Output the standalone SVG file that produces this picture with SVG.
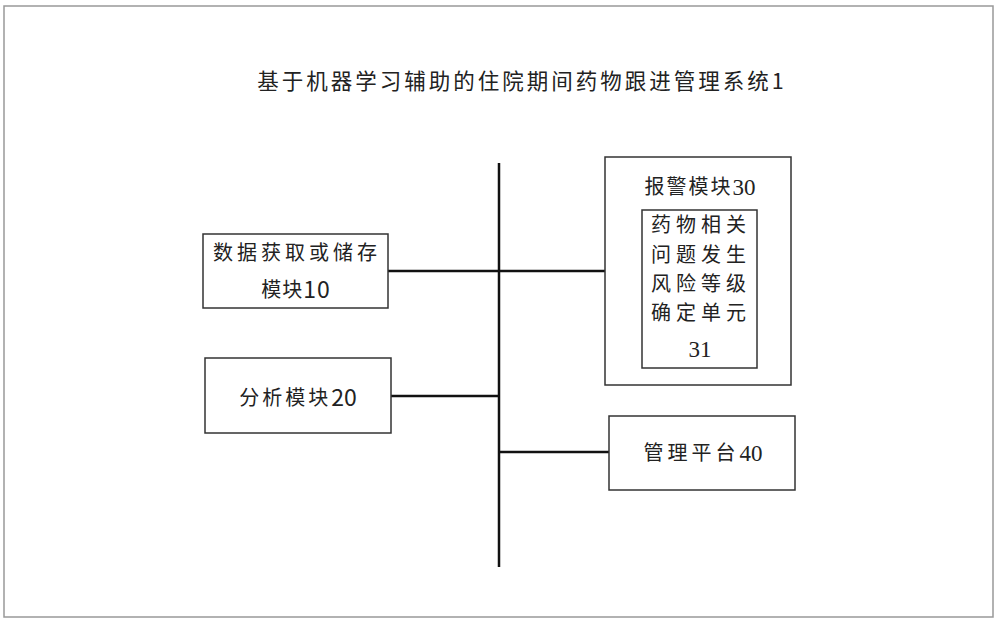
<svg xmlns="http://www.w3.org/2000/svg" width="1000" height="623" viewBox="0 0 1000 623">
<style>
.box{fill:#fff;stroke:#333;stroke-width:1.5}
.frame{fill:#fff;stroke:#999;stroke-width:1.5}
.ln{stroke:#111;stroke-width:2.5;fill:none}
.t{font-family:"Noto Sans CJK SC","Liberation Sans",sans-serif;font-size:20px;fill:#222;text-anchor:middle;dominant-baseline:central}
.s{font-family:"Liberation Serif","Noto Sans CJK SC",serif;font-size:20px;fill:#222;text-anchor:middle;dominant-baseline:central}
.d{font-size:23px}
</style>
<rect class="frame" x="4" y="6" width="989" height="611"/>
<text id="title" class="t" x="522" y="79" style="font-size:21.5px;letter-spacing:3px">基于机器学习辅助的住院期间药物跟进管理系统1</text>
<g id="connectors">
<line class="ln" x1="499" y1="163" x2="499" y2="567"/>
<line class="ln" x1="388" y1="271" x2="605" y2="271"/>
<line class="ln" x1="391" y1="396" x2="499" y2="396"/>
<line class="ln" x1="499" y1="452" x2="609" y2="452"/>
</g>
<g id="node10">
<rect class="box" x="203" y="234" width="185" height="74"/>
<text class="t" x="297" y="251" style="letter-spacing:4px">数据获取或储存</text>
<text class="t" x="296" y="288" style="letter-spacing:1px">模块<tspan class="d">10</tspan></text>
</g>
<g id="node20">
<rect class="box" x="205" y="358" width="186" height="75"/>
<text class="t" x="298" y="396" style="letter-spacing:3px">分析模块<tspan class="d" style="letter-spacing:0">20</tspan></text>
</g>
<g id="node30">
<rect class="box" x="605" y="157" width="186" height="228"/>
<text class="s" x="700" y="187" style="letter-spacing:2px">报警模块<tspan class="d" style="letter-spacing:0">30</tspan></text>
<g id="node31">
<rect class="box" x="642" y="210" width="115" height="158"/>
<text class="s" x="701" y="225" style="letter-spacing:5px">药物相关</text>
<text class="s" x="701" y="255" style="letter-spacing:5px">问题发生</text>
<text class="s" x="701" y="284" style="letter-spacing:5px">风险等级</text>
<text class="s" x="701" y="313" style="letter-spacing:5px">确定单元</text>
<text class="s d" x="700" y="349">31</text>
</g>
</g>
<g id="node40">
<rect class="box" x="609" y="416" width="186" height="74"/>
<text class="s" x="703" y="453" style="letter-spacing:4px">管理平台<tspan class="d" style="letter-spacing:0">40</tspan></text>
</g>
</svg>
